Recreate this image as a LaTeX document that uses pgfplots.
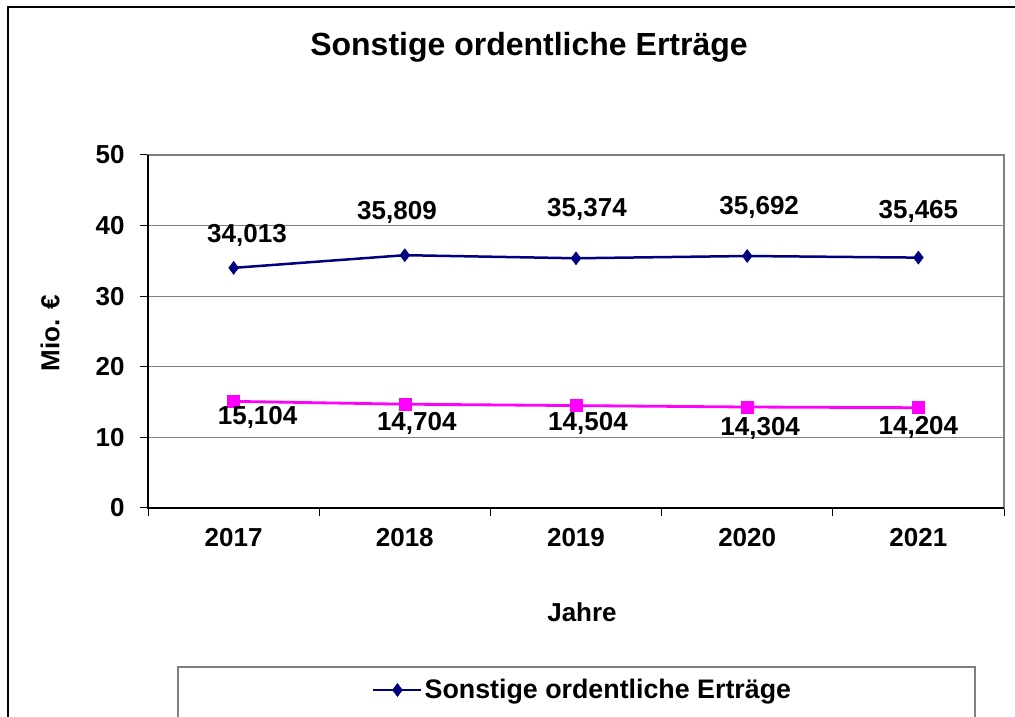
\documentclass[border=0pt]{standalone}
\usepackage{pgfplots}
\pgfplotsset{compat=1.18}
\usepackage{pgfplotstable}
\usepackage{fontspec}
\setmainfont{Liberation Sans}
\definecolor{navyb}{RGB}{0,0,128}
\definecolor{pinkm}{RGB}{255,0,255}
\definecolor{gridg}{RGB}{128,128,128}
\newcommand{\lbl}{\fontsize{26}{31}\selectfont\bfseries}

\pgfplotstableread{
x y dx dy label
1 34.013 13.4 32 34,013
2 35.809 -7.8 43 35,809
3 35.374 11 49 35,374
4 35.692 12 49 35,692
5 35.465 0 46 35,465
}\bluedata

\pgfplotstableread{
x y dx dy label
1 15.104 24 -15.6 15,104
2 14.704 12 -19 14,704
3 14.504 12 -18 14,504
4 14.304 13 -21 14,304
5 14.204 0 -20 14,204
}\pinkdata

\begin{document}
\begin{tikzpicture}[x=1pt,y=1pt]
\path[use as bounding box] (0,0) rectangle (1015,717);
\draw[black, line width=1.5pt] (8,0) -- (8,710) -- (1015,710);
\draw[gridg, line width=1.5pt] (178,0) -- (178,50) -- (975,50) -- (975,0);
\node[font=\fontsize{32}{38}\selectfont\bfseries] at (529,670) {Sonstige ordentliche Erträge};
\node[font=\lbl] at (582,105) {Jahre};
\node[font=\lbl, rotate=90] at (50,384) {Mio. €};
\begin{axis}[
  at={(148pt,209pt)}, anchor=south west,
  scale only axis, width=856pt, height=353pt,
  xmin=0.5, xmax=5.5, ymin=0, ymax=50,
  xtick={0.5,1.5,2.5,3.5,4.5,5.5}, xticklabels={{},{},{},{},{},{}},
  extra x ticks={1,2,3,4,5},
  extra x tick labels={2017,2018,2019,2020,2021},
  extra x tick style={major tick length=0pt},
  ytick={0,10,20,30,40,50}, yticklabels={0,10,20,30,40,50},
  xtick pos=bottom, ytick pos=left,
  tick align=outside, major tick length=8pt,
  tick style={black, line width=1pt},
  ymajorgrids, major grid style={gridg, line width=1.2pt},
  axis line style={gridg, line width=1.5pt},
  tick label style={font=\lbl, black},
  yticklabel style={xshift=-12pt},
  xticklabel style={yshift=-17pt},
  clip=false,
  legend style={draw=none, fill=none, inner sep=0pt,
    at={(axis description cs:0.2617,-0.5156)}, anchor=west,
    font=\fontsize{26.8}{31}\selectfont\bfseries},
  legend image code/.code={\draw[mark repeat=2,mark phase=2] plot coordinates {(0pt,0pt) (24pt,0pt) (48pt,0pt)};},
  nodes near coords, point meta=explicit symbolic,
  visualization depends on={\thisrow{dx} \as \dx},
  visualization depends on={\thisrow{dy} \as \dy},
  every node near coord/.append style={anchor=center, xshift=\dx pt, yshift=\dy pt, font=\lbl, black, inner sep=0pt},
]
\addplot[navyb, line width=2.5pt, mark=diamond*, mark size=6.5pt, mark options={solid, fill=navyb, line width=0.5pt}]
  table[x=x, y=y, meta=label] {\bluedata};
\addlegendentry{Sonstige ordentliche Erträge}
\addplot[pinkm, line width=2.8pt, mark=square*, mark size=6pt, mark options={solid, fill=pinkm, line width=0.5pt}, forget plot]
  table[x=x, y=y, meta=label] {\pinkdata};
\draw[black, line width=1.5pt] (rel axis cs:0,1) -- (rel axis cs:0,0) -- (rel axis cs:1,0);
\end{axis}
\end{tikzpicture}
\end{document}
